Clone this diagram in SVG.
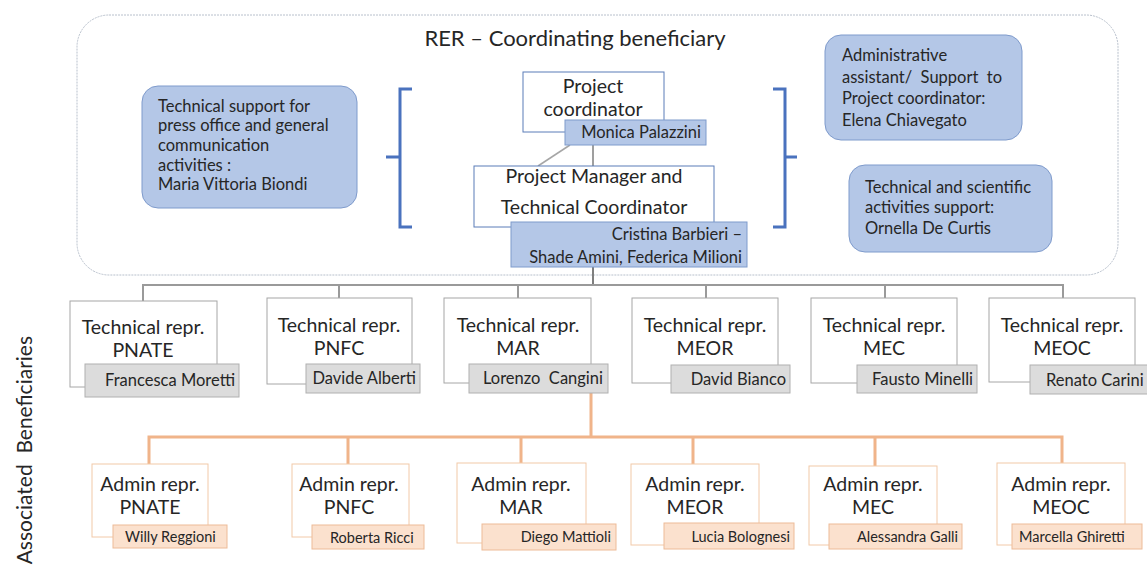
<svg xmlns="http://www.w3.org/2000/svg" width="1147" height="581" viewBox="0 0 1147 581">
<style>
text{font-family:Lato,"Liberation Sans",sans-serif;fill:#262626}
.big{font-size:19.5px}
.mid{font-size:16.5px}
.sm{font-size:14.5px}
.blue{fill:#B4C7E7;stroke:#7F9BCC;stroke-width:1}
.white{fill:#FFFFFF;stroke:#5B7DB8;stroke-width:1}
.tech{fill:#FFFFFF;stroke:#A6A6A6;stroke-width:1}
.gname{fill:#DCDCDC;stroke:#B0B0B0;stroke-width:1}
.adm{fill:#FFFFFF;stroke:#F2C9A8;stroke-width:1}
.oname{fill:#FBE1CE;stroke:#EDBB98;stroke-width:1}
.gl{stroke:#9A9A9A;stroke-width:2;fill:none}
.ol{stroke:#F0B48A;stroke-width:3;fill:none}
.br{stroke:#4A72BE;stroke-width:3;fill:none}
.c{text-anchor:middle}
.e{text-anchor:end}
</style>

<g id="rer-frame">
<rect x="77" y="15" width="1041" height="260" rx="32" ry="32" fill="#FFFFFF" stroke="#B8C0CC" stroke-width="1" stroke-dasharray="2 1"/>
<text class="c" x="575" y="46" font-size="22">RER – Coordinating beneficiary</text>
</g>

<g id="connectors">
<path class="br" d="M412,89 H400 V227 H412 M400,157 H386"/>
<path class="br" d="M773,89 H785 V227 H773 M785,157 H797"/>
<line x1="570" y1="145" x2="538" y2="166" stroke="#A6A6A6" stroke-width="1.5"/>
<line x1="593" y1="145" x2="593" y2="166" stroke="#7F7F7F" stroke-width="1.5"/>
<line x1="593" y1="267" x2="593" y2="285" stroke="#7F7F7F" stroke-width="2"/>
<path class="gl" d="M143,301 V285 H1063 V298 M339,285 V298 M518,285 V298 M706,285 V298 M885,285 V298"/>
<path class="ol" d="M591,393 V437 M149,464 V437 H1062 V463 M348,437 V464 M521,437 V463 M693,437 V464 M875,437 V466"/>
</g>

<g id="press-support">
<rect class="blue" x="142" y="86" width="215" height="122" rx="16" ry="16"/>
<text class="mid" x="158" y="112">Technical support for</text>
<text class="mid" x="158" y="131">press office and general</text>
<text class="mid" x="158" y="151">communication</text>
<text class="mid" x="158" y="171">activities :</text>
<text class="mid" x="158" y="190">Maria Vittoria Biondi</text>
</g>

<g id="project-coordinator">
<rect class="white" x="523" y="72" width="141" height="60"/>
<text class="big c" x="593" y="93">Project</text>
<text class="big c" x="593" y="116">coordinator</text>
<rect class="blue" x="565" y="120" width="141" height="25"/>
<text class="mid e" x="701" y="138">Monica Palazzini</text>
</g>

<g id="project-manager">
<rect class="white" x="474" y="166" width="240" height="61"/>
<text class="big c" x="594" y="183">Project Manager and</text>
<text class="big c" x="594" y="214">Technical Coordinator</text>
<rect class="blue" x="511" y="222" width="236" height="45"/>
<text class="mid e" x="742" y="240">Cristina Barbieri –</text>
<text class="mid e" x="742" y="263">Shade Amini, Federica Milioni</text>
</g>

<g id="admin-assistant">
<rect class="blue" x="825" y="35" width="197" height="105" rx="16" ry="16"/>
<text class="mid" x="842" y="61">Administrative</text>
<text class="mid" x="842" y="83" xml:space="preserve">assistant/  Support  to</text>
<text class="mid" x="842" y="104">Project coordinator:</text>
<text class="mid" x="842" y="126">Elena Chiavegato</text>
</g>

<g id="scientific-support">
<rect class="blue" x="849" y="165" width="203" height="87" rx="16" ry="16"/>
<text class="mid" x="865" y="193">Technical and scientific</text>
<text class="mid" x="865" y="213">activities support:</text>
<text class="mid" x="865" y="234">Ornella De Curtis</text>
</g>

<g id="tech-pnate">
<rect class="tech" x="70" y="301" width="147" height="86"/>
<text class="big c" x="143" y="334">Technical repr.</text>
<text class="big c" x="143" y="357">PNATE</text>
<rect class="gname" x="85" y="364" width="154" height="33"/>
<text class="mid e" x="235" y="386">Francesca Moretti</text>
</g>
<g id="tech-pnfc">
<rect class="tech" x="267" y="298" width="145" height="86"/>
<text class="big c" x="339" y="332">Technical repr.</text>
<text class="big c" x="339" y="355">PNFC</text>
<rect class="gname" x="306" y="364" width="114" height="29"/>
<text class="mid e" x="416" y="384">Davide Alberti</text>
</g>
<g id="tech-mar">
<rect class="tech" x="444" y="298" width="147" height="85"/>
<text class="big c" x="518" y="332">Technical repr.</text>
<text class="big c" x="518" y="355">MAR</text>
<rect class="gname" x="469" y="364" width="139" height="29"/>
<text class="mid e" x="603" y="384" xml:space="preserve">Lorenzo  Cangini</text>
</g>
<g id="tech-meor">
<rect class="tech" x="632" y="298" width="146" height="85"/>
<text class="big c" x="705" y="332">Technical repr.</text>
<text class="big c" x="705" y="355">MEOR</text>
<rect class="gname" x="671" y="365" width="119" height="28"/>
<text class="mid e" x="786" y="385">David Bianco</text>
</g>
<g id="tech-mec">
<rect class="tech" x="811" y="298" width="146" height="85"/>
<text class="big c" x="884" y="332">Technical repr.</text>
<text class="big c" x="884" y="355">MEC</text>
<rect class="gname" x="857" y="365" width="120" height="28"/>
<text class="mid e" x="973" y="385">Fausto Minelli</text>
</g>
<g id="tech-meoc">
<rect class="tech" x="989" y="298" width="146" height="84"/>
<text class="big c" x="1062" y="332">Technical repr.</text>
<text class="big c" x="1062" y="355">MEOC</text>
<rect class="gname" x="1030" y="365" width="120" height="29"/>
<text class="mid" x="1046" y="386">Renato Carini</text>
</g>

<g id="admin-pnate">
<rect class="adm" x="92" y="464" width="116" height="73"/>
<text class="big c" x="150" y="491">Admin repr.</text>
<text class="big c" x="150" y="514">PNATE</text>
<rect class="oname" x="113" y="525" width="114" height="23"/>
<text class="sm" x="125" y="542">Willy Reggioni</text>
</g>
<g id="admin-pnfc">
<rect class="adm" x="292" y="464" width="117" height="73"/>
<text class="big c" x="349" y="491">Admin repr.</text>
<text class="big c" x="349" y="514">PNFC</text>
<rect class="oname" x="312" y="525" width="112" height="24"/>
<text class="sm" x="330" y="543">Roberta Ricci</text>
</g>
<g id="admin-mar">
<rect class="adm" x="457" y="463" width="129" height="80"/>
<text class="big c" x="521" y="491">Admin repr.</text>
<text class="big c" x="521" y="514">MAR</text>
<rect class="oname" x="482" y="524" width="134" height="26"/>
<text class="sm e" x="611" y="542">Diego Mattioli</text>
</g>
<g id="admin-meor">
<rect class="adm" x="631" y="464" width="128" height="81"/>
<text class="big c" x="695" y="491">Admin repr.</text>
<text class="big c" x="695" y="514">MEOR</text>
<rect class="oname" x="664" y="523" width="130" height="26"/>
<text class="sm e" x="790" y="542">Lucia Bolognesi</text>
</g>
<g id="admin-mec">
<rect class="adm" x="809" y="466" width="128" height="79"/>
<text class="big c" x="873" y="491">Admin repr.</text>
<text class="big c" x="873" y="514">MEC</text>
<rect class="oname" x="829" y="524" width="133" height="25"/>
<text class="sm e" x="958" y="542">Alessandra Galli</text>
</g>
<g id="admin-meoc">
<rect class="adm" x="997" y="463" width="128" height="82"/>
<text class="big c" x="1061" y="491">Admin repr.</text>
<text class="big c" x="1061" y="514">MEOC</text>
<rect class="oname" x="1012" y="524" width="130" height="25"/>
<text class="sm" x="1019" y="542">Marcella Ghiretti</text>
</g>

<g id="associated-label">
<text transform="translate(32,336) rotate(-90)" text-anchor="end" font-size="21" xml:space="preserve">Associated  Beneficiaries</text>
</g>
</svg>
